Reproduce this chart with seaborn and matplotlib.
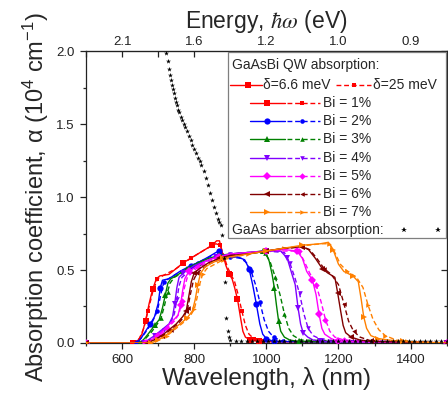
import numpy as np
import matplotlib
matplotlib.use("Agg")
import matplotlib.pyplot as plt
from matplotlib.lines import Line2D
from matplotlib.patches import Rectangle
from matplotlib.ticker import MultipleLocator, FixedLocator
import seaborn as sns

sns.set_style("ticks")
plt.rcParams['font.family'] = ['Liberation Sans', 'DejaVu Sans']
plt.rcParams['mathtext.fontset'] = 'stix'
plt.rcParams['mathtext.default'] = 'regular'

# ---- data (wavelength nm, absorption 1e4 cm^-1) ----
bi_labels = ["Bi = 1%", "Bi = 2%", "Bi = 3%", "Bi = 4%", "Bi = 5%", "Bi = 6%", "Bi = 7%"]
colors = ["#ff0000", "#0000ff", "#008000", "#8000ff", "#ff00ff", "#800000", "#ff8000"]
markers = ["s", "o", "^", "v", "D", "<", ">"]

# delta = 6.6 meV (solid)
x_s1 = [500, 630, 645, 655, 665, 675, 685, 695, 705, 730, 750, 770, 790, 810, 830, 850, 862, 870, 878, 888, 897, 905, 912, 920, 928, 935, 942, 955, 980, 1500]
y_s1 = [0, 0, 0.02, 0.06, 0.15, 0.27, 0.37, 0.44, 0.46, 0.47, 0.51, 0.55, 0.58, 0.61, 0.64, 0.67, 0.70, 0.70, 0.62, 0.53, 0.47, 0.44, 0.38, 0.30, 0.18, 0.08, 0.04, 0.02, 0.01, 0]
x_s2 = [500, 640, 652, 665, 678, 690, 700, 706, 712, 730, 760, 790, 810, 840, 860, 870, 880, 900, 920, 940, 952, 962, 972, 982, 990, 1000, 1020, 1500]
y_s2 = [0, 0, 0.03, 0.08, 0.13, 0.18, 0.27, 0.38, 0.43, 0.44, 0.49, 0.53, 0.55, 0.59, 0.62, 0.63, 0.60, 0.59, 0.59, 0.57, 0.51, 0.40, 0.27, 0.13, 0.06, 0.03, 0.01, 0]
x_s3 = [500, 650, 662, 675, 690, 703, 712, 720, 727, 735, 750, 780, 810, 840, 870, 900, 950, 990, 1000, 1008, 1016, 1022, 1028, 1034, 1040, 1050, 1065, 1090, 1500]
y_s3 = [0, 0, 0.03, 0.07, 0.12, 0.16, 0.24, 0.33, 0.41, 0.44, 0.46, 0.51, 0.55, 0.58, 0.60, 0.61, 0.62, 0.63, 0.61, 0.56, 0.47, 0.38, 0.26, 0.15, 0.08, 0.04, 0.02, 0.01, 0]
x_s4 = [500, 660, 672, 690, 710, 730, 740, 746, 752, 758, 770, 800, 830, 860, 900, 950, 1000, 1040, 1058, 1070, 1080, 1088, 1095, 1102, 1115, 1130, 1150, 1500]
y_s4 = [0, 0, 0.02, 0.05, 0.09, 0.13, 0.18, 0.27, 0.38, 0.45, 0.48, 0.53, 0.56, 0.59, 0.61, 0.62, 0.63, 0.63, 0.58, 0.48, 0.40, 0.24, 0.13, 0.07, 0.04, 0.02, 0.01, 0]
x_s5 = [500, 665, 680, 700, 720, 740, 755, 762, 768, 774, 785, 810, 840, 870, 900, 950, 1000, 1050, 1085, 1100, 1112, 1128, 1138, 1146, 1154, 1162, 1180, 1200, 1500]
y_s5 = [0, 0, 0.02, 0.05, 0.10, 0.15, 0.19, 0.26, 0.36, 0.44, 0.49, 0.53, 0.57, 0.59, 0.61, 0.62, 0.63, 0.64, 0.63, 0.58, 0.49, 0.43, 0.33, 0.20, 0.10, 0.06, 0.03, 0.01, 0]
x_s6 = [500, 670, 688, 710, 730, 750, 768, 778, 785, 792, 800, 815, 840, 870, 900, 950, 1000, 1050, 1100, 1117, 1136, 1155, 1170, 1190, 1198, 1206, 1213, 1220, 1235, 1260, 1290, 1500]
y_s6 = [0, 0, 0.02, 0.05, 0.09, 0.13, 0.18, 0.22, 0.32, 0.42, 0.48, 0.51, 0.55, 0.58, 0.60, 0.61, 0.63, 0.65, 0.66, 0.64, 0.58, 0.51, 0.48, 0.45, 0.34, 0.22, 0.12, 0.07, 0.04, 0.02, 0.01, 0]
x_s7 = [500, 680, 700, 720, 740, 760, 780, 795, 803, 810, 818, 830, 850, 880, 900, 950, 1000, 1050, 1100, 1150, 1172, 1185, 1200, 1215, 1240, 1255, 1263, 1270, 1278, 1290, 1310, 1340, 1380, 1500]
y_s7 = [0, 0, 0.02, 0.05, 0.09, 0.13, 0.17, 0.22, 0.30, 0.40, 0.48, 0.52, 0.55, 0.58, 0.59, 0.61, 0.63, 0.65, 0.67, 0.68, 0.69, 0.64, 0.54, 0.49, 0.46, 0.42, 0.30, 0.18, 0.10, 0.05, 0.03, 0.02, 0.01, 0]

# delta = 25 meV (dashed)
x_d1 = [500, 630, 648, 660, 672, 685, 698, 720, 750, 790, 830, 860, 872, 882, 892, 902, 912, 922, 932, 942, 952, 965, 990, 1500]
y_d1 = [0, 0, 0.03, 0.10, 0.22, 0.35, 0.44, 0.47, 0.51, 0.58, 0.64, 0.68, 0.67, 0.60, 0.52, 0.47, 0.42, 0.33, 0.22, 0.12, 0.06, 0.03, 0.01, 0]
x_d2 = [500, 640, 655, 670, 685, 698, 708, 716, 735, 770, 810, 850, 870, 900, 930, 945, 958, 970, 982, 994, 1006, 1020, 1045, 1500]
y_d2 = [0, 0, 0.04, 0.09, 0.15, 0.22, 0.34, 0.42, 0.45, 0.50, 0.55, 0.60, 0.61, 0.59, 0.58, 0.55, 0.49, 0.40, 0.28, 0.16, 0.08, 0.04, 0.01, 0]
x_d3 = [500, 650, 665, 680, 695, 708, 718, 726, 733, 745, 780, 820, 860, 900, 950, 995, 1010, 1025, 1038, 1050, 1062, 1075, 1095, 1500]
y_d3 = [0, 0, 0.03, 0.07, 0.12, 0.17, 0.26, 0.35, 0.41, 0.45, 0.50, 0.55, 0.59, 0.61, 0.62, 0.62, 0.56, 0.45, 0.33, 0.20, 0.10, 0.05, 0.02, 0]
x_d4 = [500, 660, 675, 695, 715, 735, 745, 752, 758, 766, 800, 850, 900, 1000, 1050, 1065, 1080, 1092, 1104, 1116, 1130, 1155, 1500]
y_d4 = [0, 0, 0.02, 0.05, 0.09, 0.14, 0.20, 0.30, 0.39, 0.45, 0.52, 0.58, 0.61, 0.63, 0.62, 0.55, 0.44, 0.34, 0.20, 0.10, 0.05, 0.02, 0]
x_d5 = [500, 665, 682, 705, 725, 745, 758, 766, 773, 781, 810, 860, 920, 1000, 1090, 1105, 1120, 1138, 1152, 1164, 1176, 1190, 1215, 1500]
y_d5 = [0, 0, 0.02, 0.05, 0.10, 0.15, 0.20, 0.29, 0.38, 0.45, 0.52, 0.58, 0.61, 0.63, 0.63, 0.56, 0.48, 0.40, 0.28, 0.16, 0.08, 0.04, 0.02, 0]
x_d6 = [500, 670, 690, 712, 735, 755, 772, 782, 790, 798, 808, 840, 900, 1000, 1100, 1120, 1140, 1160, 1180, 1200, 1215, 1228, 1242, 1260, 1295, 1500]
y_d6 = [0, 0, 0.02, 0.05, 0.09, 0.13, 0.18, 0.24, 0.34, 0.43, 0.48, 0.54, 0.60, 0.63, 0.66, 0.64, 0.58, 0.51, 0.47, 0.40, 0.27, 0.15, 0.08, 0.04, 0.01, 0]
x_d7 = [500, 680, 702, 725, 745, 765, 785, 800, 808, 815, 823, 835, 880, 950, 1050, 1150, 1175, 1190, 1205, 1225, 1250, 1268, 1282, 1296, 1312, 1330, 1360, 1390, 1500]
y_d7 = [0, 0, 0.02, 0.05, 0.09, 0.13, 0.17, 0.23, 0.31, 0.40, 0.47, 0.51, 0.57, 0.61, 0.65, 0.68, 0.68, 0.62, 0.54, 0.49, 0.45, 0.38, 0.26, 0.16, 0.09, 0.05, 0.02, 0.01, 0]

solid_x = [x_s1, x_s2, x_s3, x_s4, x_s5, x_s6, x_s7]
solid_y = [y_s1, y_s2, y_s3, y_s4, y_s5, y_s6, y_s7]
dash_x = [x_d1, x_d2, x_d3, x_d4, x_d5, x_d6, x_d7]
dash_y = [y_d1, y_d2, y_d3, y_d4, y_d5, y_d6, y_d7]

# GaAs barrier absorption (stars)
gaas_x = [720, 723, 726, 729, 732, 735, 738, 741, 744, 747, 750, 753, 756, 759, 763, 767, 771, 775, 780, 785, 790, 795, 800, 805, 810, 815, 820, 826, 832, 838, 844, 850, 856, 861, 866, 870, 874, 878, 882, 886, 889, 893, 897,
          900, 915, 930, 945, 960, 975, 990, 1005, 1020, 1035, 1050, 1065, 1080, 1095, 1110, 1125, 1140, 1155, 1170, 1185, 1200,
          1215, 1230, 1245, 1260, 1275, 1290, 1305, 1320, 1335, 1350, 1365, 1380, 1395, 1410, 1425, 1440, 1455, 1470, 1485, 1500]
gaas_y = [2.05, 1.99, 1.93, 1.88, 1.84, 1.80, 1.77, 1.74, 1.71, 1.68, 1.65, 1.63, 1.60, 1.58, 1.55, 1.53, 1.50, 1.48, 1.45, 1.42, 1.39, 1.36, 1.33, 1.30, 1.27, 1.25, 1.22, 1.18, 1.13, 1.08, 1.03, 0.98, 0.93, 0.89, 0.85, 0.83, 0.81, 0.74, 0.58, 0.42, 0.17, 0.08, 0.04,
          0.02, 0.01, 0.01, 0.01, 0.01, 0.01, 0.01, 0.01, 0.01, 0.01, 0.01, 0.01, 0.01, 0.01, 0.01, 0.01, 0.01, 0.01, 0.01, 0.01, 0.01,
          0.01, 0.01, 0.01, 0.01, 0.01, 0.01, 0.01, 0.01, 0.01, 0.01, 0.01, 0.01, 0.01, 0.01, 0.01, 0.01, 0.01, 0.01, 0.01, 0.01]

x_major = [600, 800, 1000, 1200, 1400]

fig, ax = plt.subplots(figsize=(4.48, 4.03), dpi=100)
fig.subplots_adjust(left=0.192, right=0.997, bottom=0.149, top=0.873)

for i in range(7):
    sns.lineplot(x=dash_x[i], y=dash_y[i], ax=ax, color=colors[i], lw=1.0,
                 linestyle=(0, (3.5, 2)), marker=markers[i], ms=3.3, mew=0,
                 markevery=(0.03, 0.075), sort=False, zorder=2)
    sns.lineplot(x=solid_x[i], y=solid_y[i], ax=ax, color=colors[i], lw=1.0,
                 marker=markers[i], ms=4.5, mew=0, markevery=0.08,
                 sort=False, zorder=3)

sns.scatterplot(x=gaas_x, y=gaas_y, ax=ax, marker="*", color="black", s=14,
                linewidth=0, zorder=4)

ax.set_xlim(500, 1500)
ax.set_ylim(0, 2.0)
ax.xaxis.set_major_locator(FixedLocator(x_major))
ax.xaxis.set_minor_locator(MultipleLocator(100))
ax.yaxis.set_major_locator(MultipleLocator(0.5))
ax.yaxis.set_minor_locator(MultipleLocator(0.25))
ax.yaxis.set_major_formatter(plt.FuncFormatter(lambda v, p: f"{v:.1f}"))
ax.tick_params(which="major", direction="out", length=4.5, width=0.9,
               labelsize=9.5, colors="#222222")
ax.tick_params(which="minor", direction="out", length=2.5, width=0.9)
for sp in ax.spines.values():
    sp.set_visible(True)
    sp.set_linewidth(0.9)
    sp.set_color("#222222")

# top energy axis: same positions as the wavelength ticks, labelled 1240/lambda
top = ax.secondary_xaxis("top")
top.xaxis.set_major_locator(FixedLocator(x_major))
top.xaxis.set_minor_locator(MultipleLocator(100))
top.set_xticklabels([f"{np.floor(12400.0 / v + 0.5) / 10:.1f}" for v in x_major])
top.tick_params(which="both", direction="in", length=4, width=0.9,
                labelsize=9.5, colors="#222222", pad=2)
top.set_xlabel(r"Energy, $\mathit{\hbar\omega}$ (eV)", fontsize=16.5, labelpad=6)

right = ax.secondary_yaxis("right")
right.yaxis.set_major_locator(MultipleLocator(0.5))
right.yaxis.set_minor_locator(MultipleLocator(0.25))
right.tick_params(which="major", direction="in", length=4.5, width=0.9, labelright=False)
right.tick_params(which="minor", direction="in", length=2.5, width=0.9, labelright=False)

ax.set_xlabel("Wavelength, λ (nm)", fontsize=17.5, labelpad=1)
ax.set_ylabel("Absorption coefficient, α (10$^4$ cm$^{-1}$)", fontsize=17, labelpad=4)

# custom legend panel
T = ax.transAxes
ax.add_patch(Rectangle((0.394, 0.36), 0.604, 0.636, transform=T, facecolor="white",
                       edgecolor="#7f7f7f", lw=0.9, zorder=5, clip_on=False))
fs = 10
ax.text(0.406, 0.952, "GaAsBi QW absorption:", transform=T, fontsize=fs, va="center", zorder=6)
ax.add_line(Line2D([0.400, 0.489], [0.884, 0.884], transform=T, color=colors[0], lw=1.0, zorder=6))
ax.add_line(Line2D([0.45], [0.884], transform=T, color=colors[0], marker="s", ms=4.5, mew=0, zorder=6))
ax.text(0.492, 0.884, "δ=6.6 meV", transform=T, fontsize=fs, va="center", zorder=6)
ax.add_line(Line2D([0.692, 0.789], [0.884, 0.884], transform=T, color=colors[0], lw=1.0,
                   linestyle=(0, (3.5, 2)), zorder=6))
ax.add_line(Line2D([0.742], [0.884], transform=T, color=colors[0], marker="s", ms=3.3, mew=0, zorder=6))
ax.text(0.797, 0.884, "δ=25 meV", transform=T, fontsize=fs, va="center", zorder=6)
for i in range(7):
    yy = 0.822 - i * 0.0622
    ax.add_line(Line2D([0.456, 0.553], [yy, yy], transform=T, color=colors[i], lw=1.0, zorder=6))
    ax.add_line(Line2D([0.503], [yy], transform=T, color=colors[i], marker=markers[i], ms=4.5, mew=0, zorder=6))
    ax.add_line(Line2D([0.558, 0.650], [yy, yy], transform=T, color=colors[i], lw=1.0,
                       linestyle=(0, (3.5, 2)), zorder=6))
    ax.add_line(Line2D([0.600], [yy], transform=T, color=colors[i], marker=markers[i], ms=3.3, mew=0, zorder=6))
    ax.text(0.658, yy, bi_labels[i], transform=T, fontsize=fs, va="center", zorder=6)
ax.text(0.406, 0.387, "GaAs barrier absorption:", transform=T, fontsize=fs, va="center", zorder=6)
ax.add_line(Line2D([0.881, 0.975], [0.387, 0.387], transform=T, color="black", lw=0,
                   marker="*", ms=3.8, mew=0, zorder=6))

fig.savefig("out.png", dpi=100)
